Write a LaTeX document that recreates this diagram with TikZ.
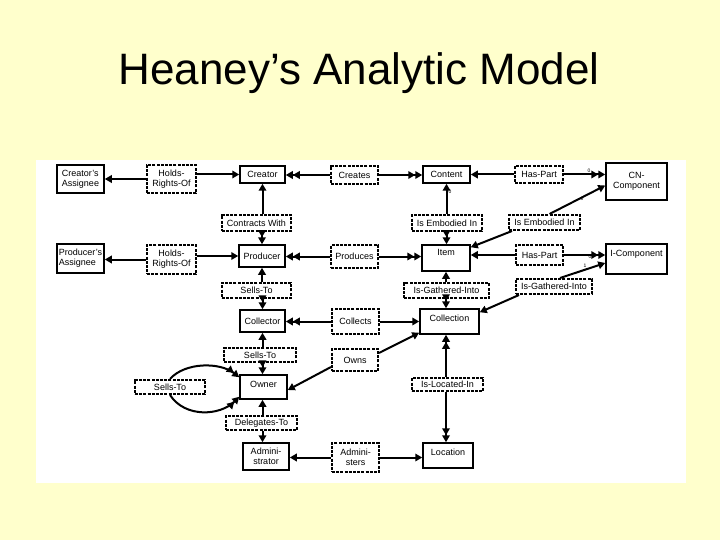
\documentclass[tikz,border=0pt]{standalone}
\usepackage{fontspec}
\setmainfont{Liberation Sans}
\usetikzlibrary{arrows.meta,calc}
\definecolor{bgy}{HTML}{FFFFCC}
\begin{document}
\begin{tikzpicture}[x=1pt,y=-1pt, font=\fontsize{9}{10}\selectfont,
 ent/.style={draw, line width=1.5pt, fill=white, inner sep=1pt, align=center},
 rel/.style={draw, line width=2pt, dash pattern=on 3pt off 1.2pt, fill=white, inner sep=1pt, align=center},
 arr/.style={line width=2pt, -{Triangle[length=7pt,width=7.5pt]}},
 arrr/.style={line width=2pt, -{Triangle[length=7pt,width=7.5pt]Triangle[length=7pt,width=7.5pt]}},
 card/.style={font=\fontsize{5}{5}\selectfont, inner sep=0pt}]
\useasboundingbox (0,0) rectangle (720,540);
\fill[bgy] (0,0) rectangle (720,540);
\fill[white] (36,160) rectangle (686,483);
\node[font=\fontsize{44}{50}\selectfont, anchor=base] (title) at (359,85) {Heaney’s Analytic Model};

% row 1
\node[ent, align=left, minimum width=47pt, minimum height=28pt] (ca) at (80.5,179) {Creator's\\Assignee};
\node[rel, minimum width=49pt, minimum height=28pt] (hr1) at (171.5,179) {Holds-\\Rights-Of};
\node[ent, minimum width=45pt, minimum height=17pt] (creator) at (262.5,174.5) {Creator};
\node[rel, minimum width=47pt, minimum height=18pt] (creates) at (354.5,175) {Creates};
\node[ent, minimum width=47pt, minimum height=17pt] (content) at (446.5,174.5) {Content};
\node[rel, minimum width=48pt, minimum height=17pt] (hp1) at (539,174.5) {Has-Part};
\node[ent, minimum width=61pt, minimum height=37pt] (cn) at (636.5,181.5) {CN-\\Component};
% row 1.5
\node[rel, minimum width=69pt, minimum height=16pt] (contracts) at (256.5,223) {Contracts With};
\node[rel, minimum width=70pt, minimum height=16pt] (emb1) at (447,223) {Is Embodied In};
\node[rel, minimum width=71pt, minimum height=15pt] (emb2) at (544.5,222.5) {Is Embodied In};
% row 2
\node[ent, align=left, minimum width=47pt, minimum height=29pt] (pa) at (80.5,258.5) {Producer's\\Assignee};
\node[rel, minimum width=49pt, minimum height=29pt] (hr2) at (171.5,259.5) {Holds-\\Rights-Of};
\node[ent, minimum width=46pt, minimum height=22pt] (producer) at (262,256) {Producer};
\node[rel, minimum width=47pt, minimum height=23pt] (produces) at (354.5,256.5) {Produces};
\node[ent, minimum width=48pt, minimum height=26pt, text depth=11pt] (item) at (446,258) {Item};
\node[rel, minimum width=47pt, minimum height=20pt] (hp2) at (539.5,255) {Has-Part};
\node[ent, minimum width=61pt, minimum height=30pt, text depth=12pt] (icomp) at (636.5,259) {I-Component};
% row 2.5
\node[rel, minimum width=69pt, minimum height=15pt] (sells1) at (256.5,290.5) {Sells-To};
\node[rel, minimum width=85pt, minimum height=15pt] (gath1) at (446.5,290.5) {Is-Gathered-Into};
\node[rel, minimum width=76pt, minimum height=15pt] (gath2) at (554,286.5) {Is-Gathered-Into};
% row 3
\node[ent, minimum width=45pt, minimum height=22pt] (collector) at (262.5,321) {Collector};
\node[rel, minimum width=47pt, minimum height=25pt] (collects) at (355.5,321.5) {Collects};
\node[ent, minimum width=59pt, minimum height=25pt, text depth=6pt] (collection) at (449.5,321.5) {Collection};
% row 3.5
\node[rel, minimum width=72pt, minimum height=14pt] (sells2) at (260,355) {Sells-To};
\node[rel, minimum width=46pt, minimum height=22pt] (owns) at (355,360) {Owns};
% row 4
\node[rel, minimum width=70pt, minimum height=14pt] (sells3) at (170,387) {Sells-To};
\node[ent, minimum width=47pt, minimum height=24pt, text depth=6pt] (owner) at (263.5,387) {Owner};
\node[rel, minimum width=71pt, minimum height=13pt] (located) at (447.5,384.5) {Is-Located-In};
% row 4.5
\node[rel, minimum width=71pt, minimum height=14pt] (delegates) at (261.5,423) {Delegates-To};
% row 5
\node[ent, minimum width=46pt, minimum height=27pt] (admin) at (266,456.5) {Admini-\\strator};
\node[rel, minimum width=47pt, minimum height=29pt] (administers) at (355.5,457.5) {Admini-\\sters};
\node[ent, minimum width=50pt, minimum height=25pt, text depth=6pt] (location) at (448,455.5) {Location};

% connectors row 1
\draw[arr] (hr1.west) -- (hr1.west -| ca.east);
\draw[arr] (hr1.east |- creator.west) -- (creator.west);
\draw[arrr] (creates.west) -- (creates.west -| creator.east);
\draw[arrr] (creates.east) -- (creates.east -| content.west);
\draw[arr] (hp1.west) -- (hp1.west -| content.east);
\draw[arrr] (hp1.east) -- (hp1.east -| cn.west);
\draw[arr] (creator.south |- contracts.north) -- (creator.south);
\draw[arrr] (producer.north |- contracts.south) -- (producer.north);
\draw[arr] (content.south |- emb1.north) -- (content.south);
\draw[arrr] (content.south |- emb1.south) -- (content.south |- item.north);
\draw[arr] ($(emb2.north)+(5,0)$) -- ($(cn.west)+(0,4)$);
\draw[arr] ($(emb2.south west)+(4,0)$) -- ($(item.north east)+(0,3)$);
% row 2
\draw[arr] (hr2.west) -- (hr2.west -| pa.east);
\draw[arr] (hr2.east |- producer.west) -- (producer.west);
\draw[arrr] (produces.west) -- (produces.west -| producer.east);
\draw[arrr] (produces.east) -- (produces.east -| item.west);
\draw[arr] (hp2.west) -- (hp2.west -| item.east);
\draw[arrr] (hp2.east) -- (hp2.east -| icomp.west);
\draw[arr] ($(gath2.north)+(6,0)$) -- ($(icomp.west)+(0,4)$);
\draw[arr] ($(gath2.south west)+(4,0)$) -- ($(collection.north east)+(0,4)$);
\draw[arr] (producer.south |- sells1.north) -- (producer.south);
\draw[arrr] (collector.north |- sells1.south) -- (collector.north);
\draw[arr] (item.south |- gath1.north) -- (item.south);
\draw[arrr] (item.south |- gath1.south) -- (item.south |- collection.north);
% row 3
\draw[arrr] (collects.west) -- (collects.west -| collector.east);
\draw[arr] (collects.east) -- (collects.east -| collection.west);
\draw[arr] (collector.south |- sells2.north) -- (collector.south);
\draw[arrr] (collector.south |- sells2.south) -- (collector.south |- owner.north);
\draw[arr] ($(owns.east)+(0,-7)$) -- ($(collection.south west)+(0,-2)$);
\draw[arr] ($(owns.west)+(0,7)$) -- ($(owner.east)+(0,3)$);
\draw[arrr] (item.south |- located.north) -- (item.south |- collection.south);
\draw[arrr] (item.south |- located.south) -- (item.south |- location.north);
\draw[arr] (collector.south |- delegates.north) -- (collector.south |- owner.south);
\draw[arr] (collector.south |- delegates.south) -- (collector.south |- admin.north);
\draw[arr] (administers.west) -- (administers.west -| admin.east);
\draw[arr] (administers.east) -- (administers.east -| location.west);
\draw[arrr] (sells3.north) .. controls (185,362) and (220,362) .. ($(owner.north west)+(0,3)$);
\draw[arrr] (sells3.south) .. controls (185,418) and (220,416) .. ($(owner.south west)+(0,-3)$);

% cardinalities
\node[card] (c1) at (589,171) {0};
\node[card] (c2) at (450,192) {0};
\node[card] (c3) at (582,199) {0};
\node[card] (c4) at (590,257) {0};
\node[card] (c5) at (585,266) {1};
\end{tikzpicture}
\end{document}
